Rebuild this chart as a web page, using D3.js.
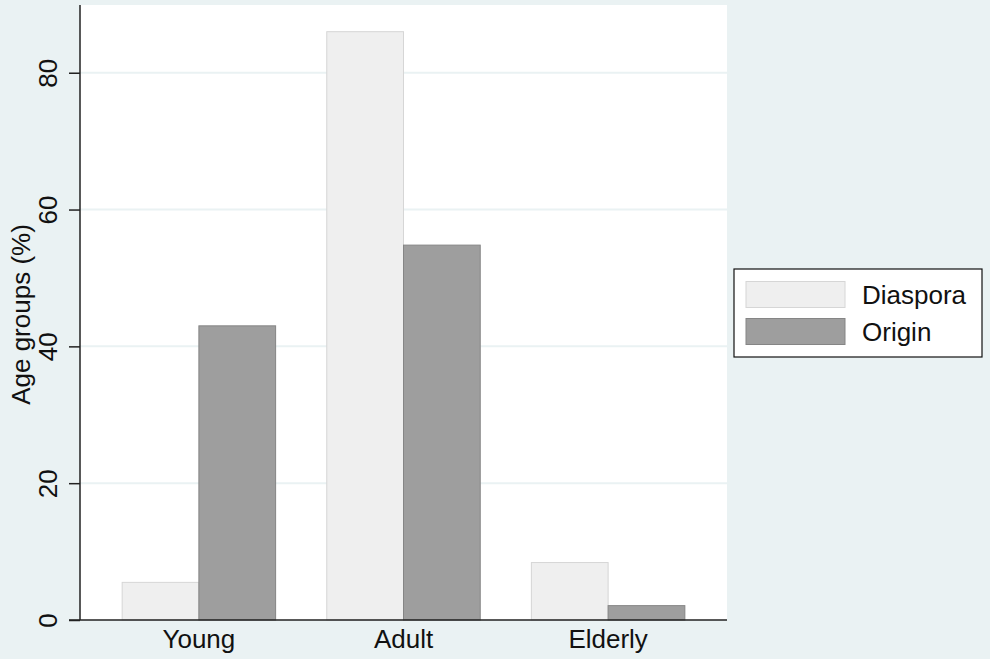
<!DOCTYPE html>
<html>
<head>
<meta charset="utf-8">
<script src="https://cdn.jsdelivr.net/npm/d3@7"></script>
<style>
  body { margin: 0; background: #eaf2f3; }
  svg { display: block; font-family: "Liberation Sans", Arial, sans-serif; }
</style>
</head>
<body>
<div id="chart"></div>
<script>
// chart data
var categories = ["Young", "Adult", "Elderly"];
var seriesNames = ["Diaspora", "Origin"];
var diaspora = [5.5, 86.0, 8.4];
var origin = [43.0, 54.8, 2.1];
var yTicks = [0, 20, 40, 60, 80];

var w = 990, h = 659;
var plot = { left: 80, top: 5, right: 727, bottom: 620 };
var fills = ["#efefef", "#9e9e9e"];
var strokes = ["#d6d6d6", "#858585"];
var fontSize = 26;

var svg = d3.select("#chart")
    .append("svg")
    .attr("width", w)
    .attr("height", h);

svg.append("rect")
    .attr("width", w).attr("height", h)
    .attr("fill", "#eaf2f3");

svg.append("rect")
    .attr("x", plot.left).attr("y", plot.top)
    .attr("width", plot.right - plot.left)
    .attr("height", plot.bottom - plot.top)
    .attr("fill", "#ffffff");

var y = d3.scaleLinear()
    .domain([0, 89.9])
    .range([plot.bottom, plot.top]);

var x0 = d3.scaleBand()
    .domain(categories)
    .range([plot.left, plot.right])
    .paddingInner(0.25)
    .paddingOuter(0.206);

var x1 = d3.scaleBand()
    .domain(seriesNames)
    .range([0, x0.bandwidth()]);

// gridlines
svg.append("g")
    .selectAll("line")
    .data(yTicks.filter(function(d) { return d > 0; }))
    .enter()
    .append("line")
    .attr("x1", plot.left).attr("x2", plot.right)
    .attr("y1", function(d) { return y(d); })
    .attr("y2", function(d) { return y(d); })
    .attr("stroke", "#eaf2f3")
    .attr("stroke-width", 2);

// bars
var rows = categories.map(function(c, i) {
    return { cat: c, vals: [diaspora[i], origin[i]] };
});

var groups = svg.append("g")
    .selectAll("g")
    .data(rows)
    .enter()
    .append("g")
    .attr("transform", function(d) { return "translate(" + x0(d.cat) + ",0)"; });

groups.selectAll("rect")
    .data(function(d) { return d.vals.map(function(v, j) { return { s: seriesNames[j], v: v, j: j }; }); })
    .enter()
    .append("rect")
    .attr("x", function(d) { return x1(d.s); })
    .attr("y", function(d) { return y(d.v); })
    .attr("width", x1.bandwidth())
    .attr("height", function(d) { return y(0) - y(d.v); })
    .attr("fill", function(d) { return fills[d.j]; })
    .attr("stroke", function(d) { return strokes[d.j]; })
    .attr("stroke-width", 1);

// axes
var yAxis = svg.append("g")
    .attr("transform", "translate(" + plot.left + ",0)")
    .call(d3.axisLeft(y).tickValues(yTicks).tickSize(11).tickPadding(0).tickFormat(d3.format("d")));
yAxis.select(".domain").attr("d", "M0," + plot.top + "V" + plot.bottom).attr("stroke", "#222").attr("stroke-width", 1.5);
yAxis.selectAll(".tick line").attr("stroke", "#222").attr("stroke-width", 1.5);
yAxis.selectAll(".tick text")
    .attr("font-size", fontSize)
    .attr("fill", "#111")
    .attr("font-family", "Liberation Sans, Arial, sans-serif")
    .attr("text-anchor", "middle")
    .attr("dy", null)
    .attr("transform", "translate(-23,0) rotate(-90)")
    .attr("x", 0)
    .attr("y", 0);

var xAxis = svg.append("g")
    .attr("transform", "translate(0," + plot.bottom + ")")
    .call(d3.axisBottom(x0).tickSize(0).tickPadding(10));
xAxis.select(".domain").attr("d", "M" + (plot.left - 11) + ",0H" + plot.right).attr("stroke", "#222").attr("stroke-width", 1.5);
xAxis.selectAll(".tick text")
    .attr("font-size", fontSize)
    .attr("fill", "#111")
    .attr("font-family", "Liberation Sans, Arial, sans-serif");

svg.append("text")
    .attr("transform", "translate(30," + ((plot.top + plot.bottom) / 2 + 2) + ") rotate(-90)")
    .attr("text-anchor", "middle")
    .attr("font-size", fontSize)
    .attr("fill", "#111")
    .text("Age groups (%)");

// legend
var legend = svg.append("g").attr("transform", "translate(734,269)");
legend.append("rect")
    .attr("width", 248).attr("height", 88)
    .attr("fill", "#ffffff")
    .attr("stroke", "#111")
    .attr("stroke-width", 1.2);

var items = legend.selectAll("g.item")
    .data(seriesNames)
    .enter()
    .append("g")
    .attr("class", "item")
    .attr("transform", function(d, i) { return "translate(12," + (12.5 + i * 37) + ")"; });
items.append("rect")
    .attr("width", 99).attr("height", 26)
    .attr("fill", function(d, i) { return fills[i]; })
    .attr("stroke", function(d, i) { return strokes[i]; });
items.append("text")
    .attr("x", 116).attr("y", 22)
    .attr("font-size", fontSize)
    .attr("fill", "#111")
    .text(function(d) { return d; });
</script>
</body>
</html>
